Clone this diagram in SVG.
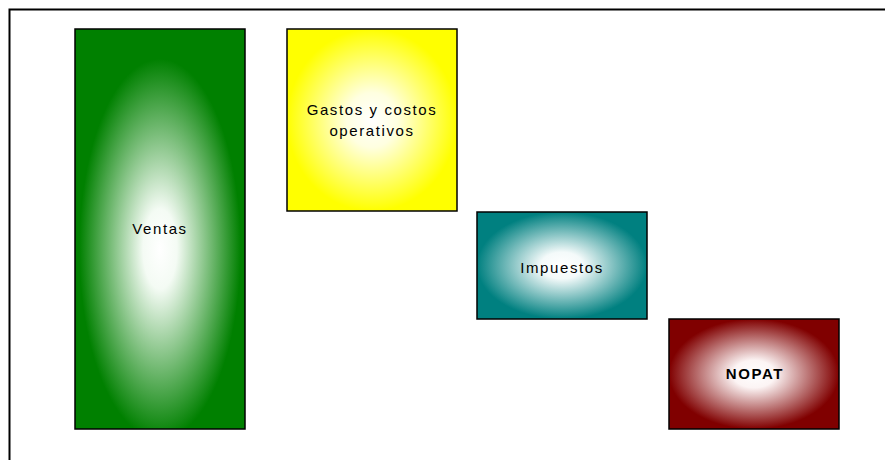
<svg xmlns="http://www.w3.org/2000/svg" width="885" height="460" viewBox="0 0 885 460">
<style>
.box{stroke:#000;stroke-width:1.5}
.lbl{font-family:"Liberation Sans",Arial,sans-serif;font-size:15px;letter-spacing:1.6px;fill:#000;text-anchor:middle}
</style>
<defs>
<radialGradient id="gGreen" cx="0.5" cy="0.55" r="0.5"><stop offset="0" stop-color="#fff"/><stop offset="0.2" stop-color="#f4fbf4"/><stop offset="0.95" stop-color="#008000"/></radialGradient>
<radialGradient id="gYellow" cx="0.5" cy="0.5" r="0.5"><stop offset="0" stop-color="#fff"/><stop offset="0.3" stop-color="#ffffe0"/><stop offset="1" stop-color="#ffff00"/></radialGradient>
<radialGradient id="gTeal" cx="0.5" cy="0.5" r="0.5"><stop offset="0" stop-color="#fff"/><stop offset="0.25" stop-color="#f4fafa"/><stop offset="1" stop-color="#008080"/></radialGradient>
<radialGradient id="gRed" cx="0.5" cy="0.5" r="0.5"><stop offset="0" stop-color="#fff"/><stop offset="0.25" stop-color="#fcf4f4"/><stop offset="1" stop-color="#800000"/></radialGradient>
</defs>
<path d="M9.5 460 V9.5 H885" fill="none" stroke="#000" stroke-width="2"/>
<g id="ventas"><rect class="box" x="75" y="29" width="170" height="400" fill="url(#gGreen)"/><text class="lbl" x="160" y="234">Ventas</text></g>
<g id="gastos"><rect class="box" x="287" y="29" width="170" height="182" fill="url(#gYellow)"/><text class="lbl" x="372" y="115">Gastos y costos</text><text class="lbl" x="372" y="136">operativos</text></g>
<g id="impuestos"><rect class="box" x="477" y="212" width="170" height="107" fill="url(#gTeal)"/><text class="lbl" x="562" y="273">Impuestos</text></g>
<g id="nopat"><rect class="box" x="669" y="319" width="170" height="110" fill="url(#gRed)"/><text class="lbl" x="755" y="379" font-weight="bold">NOPAT</text></g>
<g id="connectors"/>
</svg>
